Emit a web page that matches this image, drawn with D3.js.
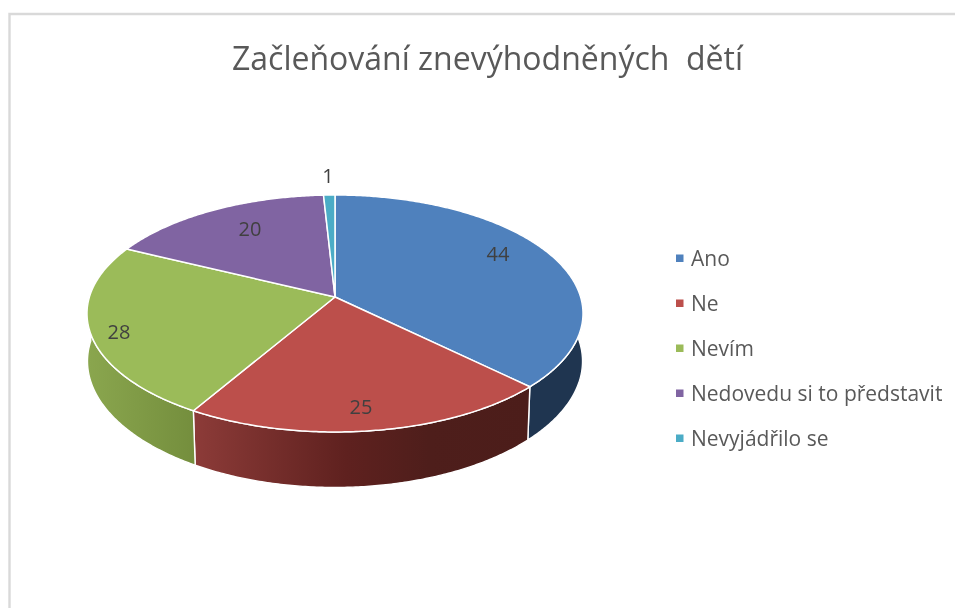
<!DOCTYPE html>
<html><head><meta charset="utf-8">
<script src="https://cdn.jsdelivr.net/npm/d3@7/dist/d3.min.js"></script>
<style>html,body{margin:0;padding:0;background:#fff}svg{display:block;filter:blur(0.45px)}text{font-family:"Open Sans",Lato,sans-serif}</style>
</head><body><svg id="c" width="955" height="608"></svg>
<script>
const titleText = "Začleňování znevýhodněných\u00A0 dětí";
const categories = ["Ano","Ne","Nevím","Nedovedu si to představit","Nevyjádřilo se"];
const values = [44,25,28,20,1];
const topColors = ["#4f81bd","#bc4f4b","#9bbb59","#8064a2","#4bacc6"];

const W=955,H=608;
const svg=d3.select("#c");
svg.append("path").attr("d",`M9.5,${H}V14H${W}`).attr("fill","none").attr("stroke","#d9d9d9").attr("stroke-width",2.4);

svg.append("text").attr("x",487.5).attr("y",70).attr("text-anchor","middle")
  .attr("font-size",32).attr("fill","#595959").text(titleText);

const color=d3.scaleOrdinal(categories,topColors);
const pie=d3.pie().sort(null).value(d=>d.v);
const arcs=pie(categories.map((c,i)=>({c,v:values[i]})));

// perspective projection of the unit circle on to the tilted disc
const cx=335,cy=297,A=245.6,B=116.2,p=0.139;
function proj(a,r=1,lower=false){
  const u=r*Math.sin(a),v=-r*Math.cos(a),w=1-p*v;
  if(lower) return [cx+(1-0.015*v)*A*u/w, 345.75+1.05*B*v/w];
  return [cx+A*u/w, cy+B*v/w];
}
const line=d3.line();
const samples=(a0,a1)=>{const n=Math.max(2,Math.ceil((a1-a0)/0.01));
  return d3.range(n+1).map(i=>a0+(a1-a0)*i/n);};

const defs=svg.append("defs");
function grad(id,x1,x2,stops){
  const g=defs.append("linearGradient").attr("id",id).attr("gradientUnits","userSpaceOnUse")
    .attr("x1",x1).attr("x2",x2).attr("y1",0).attr("y2",0);
  stops.forEach(s=>g.append("stop").attr("offset",s[0]).attr("stop-color",s[1]));
  return `url(#${id})`;
}
const sideFill={
  "Ano":"#1f3550",
  "Ne":grad("gr",195,530,[[0,"#8c3b38"],[0.45,"#5f211f"],[0.7,"#4e1e1b"],[1,"#4c1d1a"]]),
  "Nevím":grad("gg",88,195,[[0,"#8aa64e"],[1,"#748e3d"]])
};
// visible front wall: angles between the two silhouette points of the disc
const frontA=1.5, frontB=4.75;
const walls=svg.append("g");
arcs.forEach(d=>{
  const a0=Math.max(d.startAngle,frontA),a1=Math.min(d.endAngle,frontB);
  if(a1<=a0) return;
  const s=samples(a0,a1);
  const pts=s.map(a=>proj(a)).concat(s.slice().reverse().map(a=>proj(a,1,true)));
  walls.append("path").attr("d",line(pts)+"Z").attr("fill",sideFill[d.data.c])
    .attr("stroke","#fff").attr("stroke-width",1.4).attr("stroke-linejoin","round");
});
const tops=svg.append("g");
arcs.forEach(d=>{
  const pts=[proj(0,0)].concat(samples(d.startAngle,d.endAngle).map(a=>proj(a)));
  tops.append("path").attr("d",line(pts)+"Z").attr("fill",color(d.data.c))
    .attr("stroke","#fff").attr("stroke-width",1.5).attr("stroke-linejoin","round");
});

// data labels, placed by hand as in the reference
const labelAt=[[498,254],[361,407],[119,332],[250,229],[328,176]];
svg.append("g").selectAll("text").data(values).join("text")
  .attr("x",(d,i)=>labelAt[i][0]).attr("y",(d,i)=>labelAt[i][1]).attr("dy","0.35em")
  .attr("text-anchor","middle").attr("font-size",20).attr("fill","#404040").text(d=>d);

// legend
const ly=d3.scalePoint(categories,[258,438]);
const lg=svg.append("g").selectAll("g").data(categories).join("g")
  .attr("transform",d=>`translate(676,${ly(d)})`);
lg.append("rect").attr("x",0).attr("y",-3.5).attr("width",7.5).attr("height",7.5).attr("fill",d=>color(d));
lg.append("text").attr("x",15).attr("y",7.5).attr("font-size",21).attr("fill","#595959").text(d=>d);
</script></body></html>
